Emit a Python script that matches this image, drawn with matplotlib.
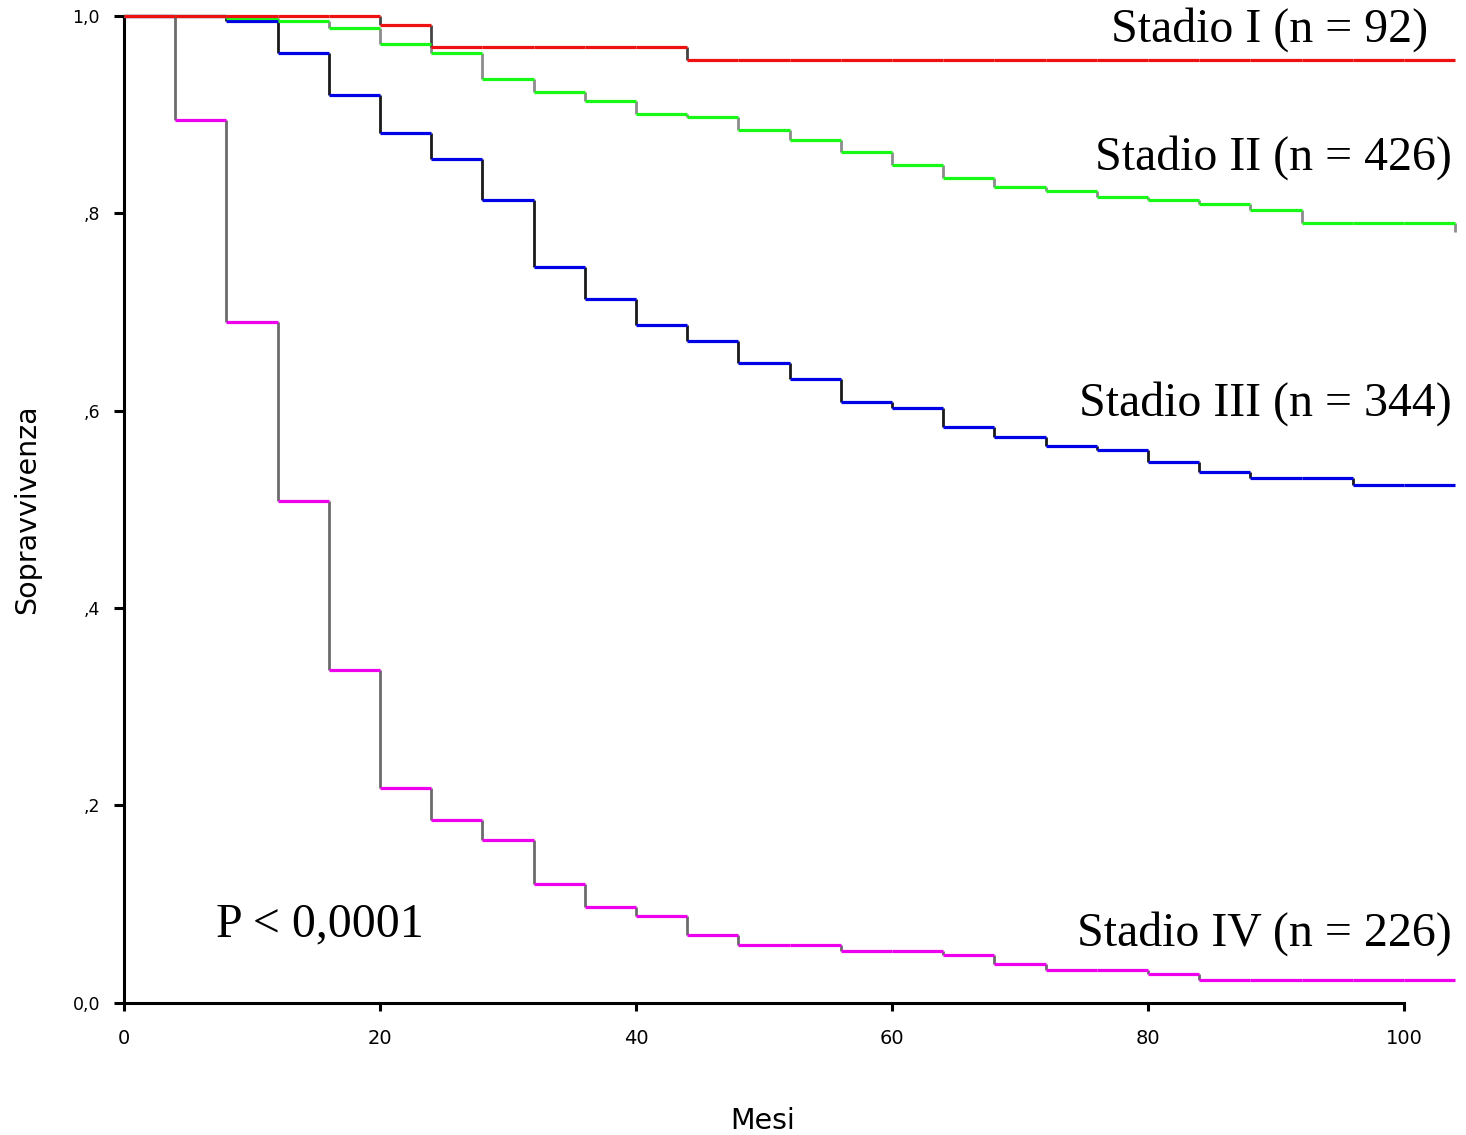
import matplotlib
matplotlib.use("Agg")
import matplotlib.pyplot as plt

# Kaplan-Meier survival by stage, step levels on 4-month intervals
mesi = [0, 4, 8, 12, 16, 20, 24, 28, 32, 36, 40, 44, 48, 52, 56, 60,
        64, 68, 72, 76, 80, 84, 88, 92, 96, 100, 104]

stadio_I = [1.0, 1.0, 1.0, 1.0, 1.0, 0.9906, 0.968, 0.968, 0.968, 0.968,
            0.968, 0.9554, 0.9554, 0.9554, 0.9554, 0.9554, 0.9554, 0.9554,
            0.9554, 0.9554, 0.9554, 0.9554, 0.9554, 0.9554, 0.9554, 0.9554]

stadio_II = [1.0, 1.0, 0.9974, 0.9943, 0.9872, 0.9716, 0.9619, 0.9356,
             0.9230, 0.9136, 0.9004, 0.8970, 0.8842, 0.8744, 0.8616, 0.8487,
             0.8359, 0.8261, 0.8221, 0.8163, 0.8130, 0.8095, 0.8028, 0.7903,
             0.7903, 0.7903]
stadio_II_fine = 0.781

stadio_III = [1.0, 1.0, 0.9943, 0.9619, 0.9193, 0.8808, 0.8545, 0.8130,
              0.7451, 0.7130, 0.6863, 0.6701, 0.6478, 0.6316, 0.6089, 0.6022,
              0.5830, 0.5729, 0.5637, 0.5603, 0.5478, 0.5377, 0.5313, 0.5313,
              0.5242, 0.5242]

stadio_IV = [1.0, 0.8943, 0.6892, 0.5081, 0.3367, 0.2174, 0.1849, 0.1653,
             0.1205, 0.0973, 0.0878, 0.0683, 0.0581, 0.0581, 0.0524, 0.0524,
             0.0486, 0.0389, 0.0328, 0.0328, 0.0288, 0.0230, 0.0230, 0.0230,
             0.0230, 0.0230]

etichette = ["Stadio I (n = 92)", "Stadio II (n = 426)",
             "Stadio III (n = 344)", "Stadio IV (n = 226)"]

y_ticks = [0.0, 0.2, 0.4, 0.6, 0.8, 1.0]
y_ticklabels = ["0,0", ",2", ",4", ",6", ",8", "1,0"]
x_ticks = [0, 20, 40, 60, 80, 100]

W, H = 1466, 1135
fig = plt.figure(figsize=(W / 100, H / 100), dpi=100)
ax = fig.add_axes([124 / W, 1 - 1002.7 / H, (1455.2 - 124) / W, 987 / H])
ax.set_xlim(0, 104)
ax.set_ylim(0, 1.0)


def curva(levels, hcolor, vcolor, end_level=None):
    salti = [i for i in range(1, len(levels)) if levels[i] != levels[i - 1]]
    ax.vlines([mesi[i] for i in salti],
              [levels[i - 1] for i in salti],
              [levels[i] for i in salti],
              colors=vcolor, linewidth=2.0, clip_on=False, zorder=2)
    if end_level is not None:
        ax.vlines([mesi[-1]], [levels[-1]], [end_level], colors=vcolor,
                  linewidth=2.0, clip_on=False, zorder=2)
    ax.hlines(levels, mesi[:-1], mesi[1:], colors=hcolor, linewidth=2.3,
              clip_on=False, zorder=3)


curva(stadio_IV, "#EE00EE", "#6B6B6B")
curva(stadio_III, "#0000E6", "#1A1A1A")
curva(stadio_II, "#16FA16", "#8C8C8C", stadio_II_fine)
curva(stadio_I, "#EE1111", "#444444")

for s in ["top", "right"]:
    ax.spines[s].set_visible(False)
ax.spines["left"].set_linewidth(2.2)
ax.spines["bottom"].set_linewidth(2.2)
ax.spines["left"].set_bounds(0, 1.0)
ax.spines["bottom"].set_bounds(0, 100)

ax.set_yticks(y_ticks)
ax.set_yticklabels(y_ticklabels)
ax.set_xticks(x_ticks)
ax.tick_params(axis="y", length=7.2, width=2.2, pad=10, labelsize=12.5)
ax.tick_params(axis="x", length=5.8, width=2.2, pad=13, labelsize=14)

serif = "Liberation Serif"
fs = 34.5
ax.text(101.9, 0.9734, etichette[0], ha="right", va="baseline",
        fontsize=fs, family=serif)
ax.text(103.75, 0.8437, etichette[1], ha="right", va="baseline",
        fontsize=fs, family=serif)
ax.text(103.75, 0.5944, etichette[2], ha="right", va="baseline",
        fontsize=fs, family=serif)
ax.text(103.75, 0.0574, etichette[3], ha="right", va="baseline",
        fontsize=fs, family=serif)
ax.text(7.2, 0.0669, "P < 0,0001", ha="left", va="baseline",
        fontsize=fs, family=serif)

fig.text(27 / W, 1 - 509 / H, "Sopravvivenza", rotation=90,
         ha="center", va="center", fontsize=20.5)
fig.text(763 / W, 1 - 1121 / H, "Mesi", ha="center", va="center", fontsize=20.5)

fig.savefig("out.png", dpi=100)
